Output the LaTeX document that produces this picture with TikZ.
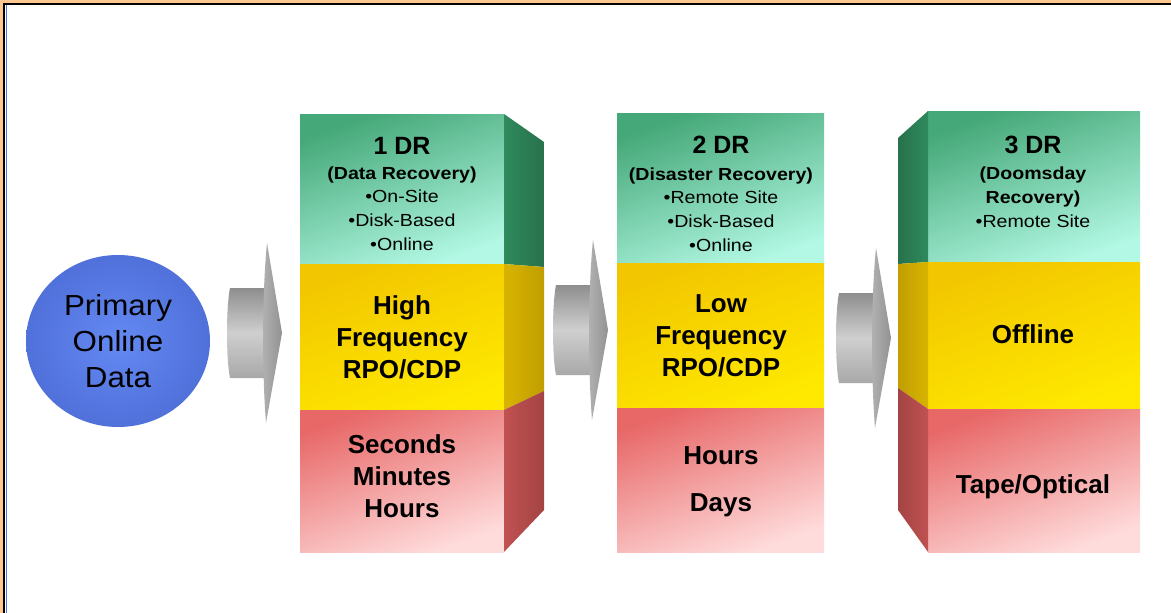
\documentclass[tikz,border=0pt]{standalone}
\usepackage{fontspec}
\setmainfont{Liberation Sans}
\newfontfamily\smallf[FakeStretch=1.12]{Liberation Sans}
\newfontfamily\circf[FakeStretch=1.08]{Liberation Sans}
\usetikzlibrary{shapes.geometric}
\definecolor{peach}{HTML}{FFC890}
\definecolor{frameblue}{HTML}{4A7BD0}
\definecolor{circIn}{HTML}{6489F2}
\definecolor{circOut}{HTML}{5070DA}
\definecolor{gTop}{HTML}{45A878}
\definecolor{gBot}{HTML}{B2F8E4}
\definecolor{yTop}{HTML}{F2C600}
\definecolor{yBot}{HTML}{FFE900}
\definecolor{rTop}{HTML}{E86868}
\definecolor{rBot}{HTML}{FFDCDC}
\definecolor{gSideA}{HTML}{2F8A5C}
\definecolor{gSideB}{HTML}{28714C}
\definecolor{ySideA}{HTML}{D8B400}
\definecolor{ySideB}{HTML}{C09E00}
\definecolor{rSideA}{HTML}{C05252}
\definecolor{rSideB}{HTML}{A44343}
\definecolor{arTop}{HTML}{8E8E8E}
\definecolor{arMid}{HTML}{CFCFCF}
\definecolor{arBot}{HTML}{A8A8A8}
\definecolor{headA}{HTML}{B2B2B2}
\definecolor{headB}{HTML}{929292}
\tikzset{
  greenface/.style={top color=gTop, bottom color=gBot, shading angle=20},
  yellowface/.style={top color=yTop, bottom color=yBot, shading angle=20},
  redface/.style={top color=rTop, bottom color=rBot, shading angle=20},
  gside/.style={left color=gSideA, right color=gSideB},
  yside/.style={left color=ySideA, right color=ySideB},
  rside/.style={left color=rSideA, right color=rSideB},
  gsideL/.style={left color=gSideB, right color=gSideA},
  ysideL/.style={left color=ySideB, right color=ySideA},
  rsideL/.style={left color=rSideB, right color=rSideA},
  titletext/.style={anchor=base, inner sep=0pt, font=\bfseries\fontsize{25}{30}\selectfont},
  bodytext/.style={anchor=base, inner sep=0pt, align=center, font=\smallf\fontsize{17.5}{23.6}\selectfont},
  bigtext/.style={anchor=base, inner sep=0pt, align=center, font=\bfseries\fontsize{26}{32}\selectfont},
  circtext/.style={ellipse, inner sep=0pt, minimum width=184pt, minimum height=172pt,
     inner color=circIn, outer color=circOut, align=center, font=\circf\fontsize{29}{36}\selectfont}
}
\newcommand\grayarr[2]{%
  \shade[top color=arTop, bottom color=arBot, middle color=arMid]
    (#1+3,#2-45) -- (#1+38,#2-45) -- (#1+38,#2+45) -- (#1+3,#2+45)
    .. controls (#1-1,#2+25) and (#1-1,#2-25) .. (#1+3,#2-45) -- cycle;
  \shade[left color=headA, right color=headB]
    (#1+40,#2-90) -- (#1+55,#2) -- (#1+39,#2+90)
    .. controls (#1+35,#2+40) and (#1+35,#2-40) .. (#1+40,#2-90) -- cycle;
}
\begin{document}
\begin{tikzpicture}[x=1pt,y=-1pt]
\useasboundingbox (0,0) rectangle (1171,613);
\fill[white] (0,0) rectangle (1171,613);
% frame
\fill[peach] (0,0) rectangle (1171,3);
\fill[peach] (0,0) rectangle (3,613);
\fill[black] (3,3) rectangle (1171,5);
\fill[black] (3,3) rectangle (5,613);
\fill[frameblue] (6,5) rectangle (7.2,613);

% circle
\node[circtext] (pod) at (118,341) {Primary\\Online\\Data};

% arrows
\grayarr{227}{333}
\grayarr{553}{330}
\grayarr{836}{338}

% column 1
\shade[greenface] (300,114) rectangle (504,264);
\shade[yellowface] (300,264) rectangle (504,410);
\shade[redface] (300,410) rectangle (504,552);
\shade[gside] (504,114) -- (544,142) -- (544,267) -- (504,264) -- cycle;
\shade[yside] (504,264) -- (544,267) -- (544,391) -- (504,410) -- cycle;
\shade[rside] (504,410) -- (544,391) -- (544,510) -- (504,552) -- cycle;

% column 2
\shade[greenface] (617,113) rectangle (824,263);
\shade[yellowface] (617,263) rectangle (824,408);
\shade[redface] (617,408) rectangle (824,552);

% column 3
\shade[greenface] (928,111) rectangle (1140,262);
\shade[yellowface] (928,262) rectangle (1140,409);
\shade[redface] (928,409) rectangle (1140,552);
\shade[gsideL] (898,138) -- (928,111) -- (928,262) -- (898,264) -- cycle;
\shade[ysideL] (898,264) -- (928,262) -- (928,409) -- (898,388) -- cycle;
\shade[rsideL] (898,388) -- (928,409) -- (928,552) -- (898,510) -- cycle;

% texts column 1 (anchor base = baseline of last line)
\node[titletext] (t1) at (402,154) {1 DR};
\node[bodytext] (b1) at (402,250) {\textbf{(Data Recovery)}\\•On-Site\\•Disk-Based\\•Online};
\node[bigtext] (m1) at (402,378) {High\\Frequency\\RPO/CDP};
\node[bigtext] (r1) at (402,517) {Seconds\\Minutes\\Hours};

% texts column 2
\node[titletext] (t2) at (721,153) {2 DR};
\node[bodytext] (b2) at (721,251) {\textbf{(Disaster Recovery)}\\•Remote Site\\•Disk-Based\\•Online};
\node[bigtext] (m2) at (721,376) {Low\\Frequency\\RPO/CDP};
\node[bigtext, font=\bfseries\fontsize{26}{47}\selectfont] (r2) at (721,511) {Hours\\Days};

% texts column 3
\node[titletext] (t3) at (1033,153) {3 DR};
\node[bodytext] (b3) at (1033,227) {\textbf{(Doomsday}\\\textbf{Recovery)}\\•Remote Site};
\node[bigtext] (m3) at (1033,343) {Offline};
\node[bigtext] (r3) at (1033,493) {Tape/Optical};
\end{tikzpicture}
\end{document}
